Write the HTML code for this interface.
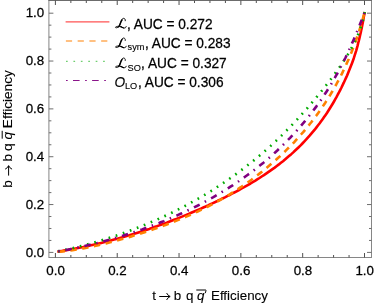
<!DOCTYPE html>
<html><head><meta charset="utf-8"><title>ROC</title>
<style>html,body{margin:0;padding:0;background:#fff;}svg{display:block;}svg{will-change:transform;}text{font-family:"Liberation Sans",sans-serif;fill:#000;}</style></head><body>
<svg width="374" height="305" viewBox="0 0 374 305">
<rect width="374" height="305" fill="#fff"/>
<g fill="none" stroke-width="2.6" stroke-linecap="butt" stroke-linejoin="round">
<path d="M57.3,251.7 L59.9,251.3 L62.5,250.9 L65.1,250.4 L67.7,250.0 L70.3,249.5 L72.9,249.0 L75.5,248.5 L78.1,248.0 L80.7,247.5 L83.3,247.0 L85.9,246.4 L88.4,245.9 L91.0,245.3 L93.6,244.7 L96.2,244.1 L98.7,243.5 L101.3,242.9 L103.9,242.3 L106.4,241.6 L109.0,241.0 L111.5,240.3 L114.1,239.6 L116.6,238.9 L119.1,238.2 L121.7,237.5 L124.2,236.8 L126.7,236.0 L129.3,235.3 L131.8,234.5 L134.3,233.8 L136.8,233.0 L139.3,232.2 L141.8,231.4 L144.3,230.5 L146.8,229.7 L149.3,228.9 L151.8,228.0 L154.3,227.1 L156.8,226.3 L159.3,225.4 L161.7,224.5 L164.2,223.6 L166.7,222.7 L169.1,221.7 L171.6,220.8 L174.1,219.8 L176.5,218.9 L179.0,217.9 L181.4,216.9 L183.9,215.9 L186.3,214.9 L188.7,213.9 L191.2,212.8 L193.6,211.8 L196.0,210.8 L198.5,209.7 L200.9,208.6 L203.3,207.5 L205.7,206.5 L208.1,205.4 L210.5,204.2 L212.9,203.1 L215.3,202.0 L217.7,200.8 L220.1,199.7 L222.5,198.5 L224.9,197.4 L227.2,196.2 L229.6,195.0 L231.9,193.7 L234.3,192.5 L236.6,191.3 L239.0,190.0 L241.3,188.7 L243.6,187.4 L245.9,186.1 L248.2,184.8 L250.5,183.5 L252.7,182.1 L255.0,180.8 L257.2,179.4 L259.5,178.0 L261.7,176.5 L263.9,175.1 L266.1,173.6 L268.2,172.1 L270.4,170.6 L272.5,169.1 L274.7,167.6 L276.8,166.0 L278.9,164.4 L280.9,162.8 L283.0,161.2 L285.0,159.5 L287.0,157.8 L289.0,156.1 L291.0,154.4 L293.0,152.6 L294.9,150.8 L296.8,149.0 L298.7,147.2 L300.6,145.4 L302.4,143.5 L304.2,141.6 L306.0,139.7 L307.8,137.7 L309.6,135.7 L311.3,133.7 L313.0,131.7 L314.7,129.7 L316.3,127.6 L317.9,125.5 L319.5,123.5 L321.1,121.3 L322.6,119.2 L324.1,117.0 L325.6,114.9 L327.1,112.7 L328.5,110.5 L329.9,108.2 L331.3,106.0 L332.7,103.7 L334.0,101.5 L335.3,99.2 L336.6,96.9 L337.8,94.5 L339.1,92.2 L340.3,89.8 L341.5,87.5 L342.6,85.1 L343.8,82.7 L344.9,80.3 L346.0,77.9 L347.1,75.5 L348.1,73.0 L349.1,70.6 L350.1,68.1 L351.1,65.6 L352.0,63.2 L352.9,60.7 L353.8,58.2 L354.6,55.7 L355.4,53.2 L356.2,50.6 L356.9,48.1 L357.6,45.6 L358.2,43.0 L358.9,40.5 L359.5,37.9 L360.1,35.3 L360.7,32.8 L361.2,30.2 L361.8,27.6 L362.3,25.0 L362.8,22.5 L363.3,19.9 L363.7,17.3 L364.2,14.7 L364.7,12.1" stroke="#ff0000"/>
<path d="M57.3,251.9 L59.9,251.7 L62.4,251.4 L65.0,251.1 L67.5,250.8 L70.1,250.4 L72.6,250.1 L75.2,249.7 L77.8,249.2 L80.3,248.8 L82.9,248.4 L85.5,247.9 L88.0,247.4 L90.6,246.9 L93.1,246.3 L95.7,245.8 L98.3,245.2 L100.8,244.6 L103.4,244.0 L105.9,243.4 L108.5,242.7 L111.0,242.1 L113.6,241.4 L116.1,240.7 L118.7,240.1 L121.2,239.3 L123.7,238.6 L126.3,237.9 L128.8,237.2 L131.3,236.4 L133.8,235.6 L136.4,234.9 L138.9,234.1 L141.4,233.3 L143.9,232.5 L146.4,231.7 L148.9,230.8 L151.4,230.0 L153.9,229.1 L156.4,228.3 L158.8,227.4 L161.3,226.5 L163.8,225.6 L166.2,224.7 L168.7,223.8 L171.1,222.8 L173.6,221.9 L176.0,220.9 L178.5,219.9 L180.9,218.9 L183.3,217.9 L185.7,216.9 L188.1,215.9 L190.5,214.8 L192.9,213.7 L195.2,212.7 L197.6,211.6 L200.0,210.4 L202.3,209.3 L204.7,208.2 L207.0,207.0 L209.3,205.8 L211.6,204.6 L213.9,203.4 L216.2,202.1 L218.5,200.9 L220.8,199.6 L223.1,198.3 L225.3,197.0 L227.6,195.6 L229.8,194.3 L232.0,192.9 L234.2,191.5 L236.4,190.1 L238.6,188.6 L240.8,187.2 L242.9,185.7 L245.1,184.2 L247.2,182.7 L249.4,181.2 L251.5,179.7 L253.6,178.1 L255.7,176.6 L257.7,175.0 L259.8,173.4 L261.9,171.8 L263.9,170.1 L265.9,168.5 L267.9,166.8 L269.9,165.1 L271.9,163.4 L273.9,161.7 L275.8,160.0 L277.7,158.2 L279.7,156.5 L281.6,154.7 L283.5,152.9 L285.3,151.1 L287.2,149.2 L289.0,147.4 L290.9,145.5 L292.7,143.7 L294.5,141.8 L296.2,139.9 L298.0,137.9 L299.7,136.0 L301.5,134.0 L303.2,132.1 L304.9,130.1 L306.5,128.1 L308.2,126.1 L309.8,124.0 L311.5,122.0 L313.0,119.9 L314.6,117.9 L316.2,115.8 L317.7,113.7 L319.3,111.5 L320.8,109.4 L322.3,107.3 L323.7,105.1 L325.2,102.9 L326.6,100.7 L328.0,98.5 L329.4,96.3 L330.7,94.1 L332.1,91.8 L333.4,89.6 L334.7,87.3 L336.0,85.0 L337.2,82.7 L338.5,80.4 L339.7,78.1 L340.9,75.7 L342.1,73.4 L343.2,71.0 L344.3,68.6 L345.5,66.3 L346.5,63.9 L347.6,61.5 L348.7,59.1 L349.7,56.6 L350.7,54.2 L351.7,51.8 L352.6,49.3 L353.6,46.9 L354.5,44.4 L355.4,42.0 L356.3,39.5 L357.1,37.0 L358.0,34.5 L358.8,32.1 L359.6,29.6 L360.4,27.1 L361.2,24.6 L361.9,22.1 L362.6,19.6 L363.3,17.1 L364.0,14.6 L364.7,12.1" stroke="#ff8000" stroke-dasharray="6.4 5.56" stroke-dashoffset="10.78"/>
<path d="M57.3,251.5 L59.8,251.0 L62.3,250.4 L64.8,249.9 L67.3,249.3 L69.8,248.8 L72.3,248.2 L74.8,247.6 L77.2,247.0 L79.7,246.4 L82.2,245.7 L84.7,245.1 L87.1,244.4 L89.6,243.7 L92.1,243.1 L94.5,242.4 L97.0,241.6 L99.5,240.9 L101.9,240.2 L104.4,239.4 L106.8,238.7 L109.2,237.9 L111.7,237.1 L114.1,236.3 L116.5,235.5 L119.0,234.6 L121.4,233.8 L123.8,232.9 L126.2,232.1 L128.6,231.2 L131.0,230.3 L133.4,229.4 L135.8,228.4 L138.2,227.5 L140.6,226.6 L142.9,225.6 L145.3,224.6 L147.7,223.6 L150.0,222.6 L152.4,221.6 L154.7,220.6 L157.1,219.6 L159.4,218.5 L161.7,217.4 L164.1,216.4 L166.4,215.3 L168.7,214.2 L171.0,213.1 L173.3,211.9 L175.6,210.8 L177.9,209.6 L180.2,208.5 L182.4,207.3 L184.7,206.1 L186.9,204.9 L189.2,203.7 L191.4,202.4 L193.7,201.2 L195.9,199.9 L198.1,198.7 L200.3,197.4 L202.5,196.1 L204.7,194.8 L206.9,193.4 L209.1,192.1 L211.3,190.8 L213.5,189.4 L215.6,188.0 L217.8,186.6 L219.9,185.2 L222.0,183.8 L224.2,182.4 L226.3,181.0 L228.4,179.5 L230.5,178.0 L232.6,176.6 L234.6,175.1 L236.7,173.6 L238.8,172.1 L240.8,170.5 L242.9,169.0 L244.9,167.4 L246.9,165.9 L248.9,164.3 L250.9,162.7 L252.9,161.1 L254.9,159.5 L256.9,157.9 L258.8,156.2 L260.8,154.6 L262.7,152.9 L264.6,151.2 L266.6,149.5 L268.5,147.8 L270.4,146.1 L272.2,144.4 L274.1,142.6 L276.0,140.9 L277.8,139.1 L279.7,137.4 L281.5,135.6 L283.3,133.8 L285.1,132.0 L286.9,130.2 L288.7,128.3 L290.5,126.5 L292.3,124.7 L294.0,122.8 L295.8,121.0 L297.5,119.1 L299.2,117.2 L300.9,115.3 L302.6,113.4 L304.3,111.5 L306.0,109.6 L307.7,107.7 L309.3,105.7 L311.0,103.8 L312.6,101.8 L314.3,99.9 L315.9,97.9 L317.5,95.9 L319.1,94.0 L320.8,92.0 L322.4,90.0 L324.0,88.0 L325.6,86.0 L327.2,83.9 L328.7,81.9 L330.3,79.9 L331.9,77.8 L333.4,75.8 L334.9,73.7 L336.4,71.6 L337.9,69.5 L339.4,67.4 L340.9,65.3 L342.3,63.2 L343.7,61.0 L345.1,58.8 L346.4,56.7 L347.8,54.5 L349.1,52.3 L350.4,50.1 L351.6,47.8 L352.8,45.6 L354.0,43.3 L355.1,41.0 L356.2,38.7 L357.3,36.4 L358.3,34.1 L359.2,31.7 L360.1,29.3 L360.9,26.9 L361.7,24.5 L362.5,22.1 L363.1,19.6 L363.7,17.1 L364.2,14.6 L364.7,12.1" stroke="#00aa00" stroke-dasharray="1.7 5.79" stroke-dashoffset="6.85"/>
<path d="M57.3,251.6 L59.8,251.1 L62.3,250.7 L64.8,250.2 L67.3,249.7 L69.8,249.2 L72.3,248.7 L74.9,248.1 L77.4,247.6 L79.9,247.0 L82.4,246.5 L84.9,245.9 L87.4,245.3 L89.9,244.7 L92.4,244.1 L94.9,243.5 L97.4,242.9 L99.9,242.2 L102.4,241.6 L104.9,240.9 L107.4,240.2 L109.9,239.5 L112.4,238.8 L114.9,238.1 L117.4,237.4 L119.9,236.6 L122.3,235.9 L124.8,235.1 L127.3,234.3 L129.8,233.5 L132.2,232.7 L134.7,231.9 L137.2,231.1 L139.6,230.2 L142.1,229.4 L144.5,228.5 L146.9,227.6 L149.4,226.7 L151.8,225.8 L154.2,224.9 L156.7,223.9 L159.1,223.0 L161.5,222.0 L163.9,221.1 L166.3,220.1 L168.7,219.1 L171.1,218.0 L173.5,217.0 L175.8,216.0 L178.2,214.9 L180.6,213.8 L182.9,212.8 L185.3,211.7 L187.6,210.5 L190.0,209.4 L192.3,208.3 L194.6,207.1 L196.9,206.0 L199.2,204.8 L201.5,203.6 L203.8,202.4 L206.1,201.1 L208.3,199.9 L210.6,198.6 L212.9,197.4 L215.1,196.1 L217.3,194.8 L219.6,193.5 L221.8,192.1 L224.0,190.8 L226.2,189.4 L228.3,188.1 L230.5,186.7 L232.7,185.3 L234.8,183.9 L237.0,182.4 L239.1,181.0 L241.2,179.5 L243.3,178.0 L245.4,176.5 L247.5,175.0 L249.6,173.5 L251.6,172.0 L253.7,170.4 L255.7,168.8 L257.8,167.2 L259.8,165.6 L261.8,164.0 L263.8,162.4 L265.7,160.7 L267.7,159.1 L269.6,157.4 L271.6,155.7 L273.5,154.0 L275.4,152.2 L277.3,150.5 L279.2,148.7 L281.0,146.9 L282.9,145.1 L284.7,143.3 L286.5,141.5 L288.3,139.6 L290.1,137.8 L291.9,135.9 L293.7,134.0 L295.4,132.1 L297.1,130.2 L298.8,128.2 L300.5,126.3 L302.2,124.3 L303.9,122.4 L305.5,120.4 L307.2,118.4 L308.8,116.3 L310.4,114.3 L312.0,112.3 L313.5,110.2 L315.1,108.1 L316.6,106.1 L318.1,104.0 L319.6,101.9 L321.1,99.7 L322.5,97.6 L324.0,95.5 L325.4,93.3 L326.8,91.2 L328.2,89.0 L329.5,86.8 L330.9,84.6 L332.2,82.4 L333.5,80.2 L334.8,77.9 L336.0,75.7 L337.3,73.5 L338.5,71.2 L339.7,68.9 L340.9,66.7 L342.1,64.4 L343.3,62.1 L344.4,59.8 L345.6,57.5 L346.7,55.1 L347.8,52.8 L348.9,50.5 L349.9,48.1 L351.0,45.8 L352.0,43.4 L353.1,41.0 L354.1,38.7 L355.1,36.3 L356.1,33.9 L357.1,31.5 L358.1,29.1 L359.1,26.7 L360.0,24.3 L361.0,21.8 L361.9,19.4 L362.9,17.0 L363.8,14.5 L364.7,12.1" stroke="#800080" stroke-dasharray="6.4 5.75 1.5 5.75" stroke-dashoffset="11.1"/>
</g>
<g stroke="#737373" stroke-width="1" fill="none">
<rect x="48.9" y="0.5" width="322.6" height="257.0" stroke="#868686"/>
<path d="M48.4,0.55 H372.0" stroke="#6c6c6c" stroke-width="1.1"/>
<path d="M48.9,252.40 h4.5 M371.5,252.40 h-4.5 M48.9,240.44 h2.5 M371.5,240.44 h-2.5 M48.9,228.48 h2.5 M371.5,228.48 h-2.5 M48.9,216.52 h2.5 M371.5,216.52 h-2.5 M48.9,204.56 h4.5 M371.5,204.56 h-4.5 M48.9,192.60 h2.5 M371.5,192.60 h-2.5 M48.9,180.64 h2.5 M371.5,180.64 h-2.5 M48.9,168.68 h2.5 M371.5,168.68 h-2.5 M48.9,156.72 h4.5 M371.5,156.72 h-4.5 M48.9,144.76 h2.5 M371.5,144.76 h-2.5 M48.9,132.80 h2.5 M371.5,132.80 h-2.5 M48.9,120.84 h2.5 M371.5,120.84 h-2.5 M48.9,108.88 h4.5 M371.5,108.88 h-4.5 M48.9,96.92 h2.5 M371.5,96.92 h-2.5 M48.9,84.96 h2.5 M371.5,84.96 h-2.5 M48.9,73.00 h2.5 M371.5,73.00 h-2.5 M48.9,61.04 h4.5 M371.5,61.04 h-4.5 M48.9,49.08 h2.5 M371.5,49.08 h-2.5 M48.9,37.12 h2.5 M371.5,37.12 h-2.5 M48.9,25.16 h2.5 M371.5,25.16 h-2.5 M48.9,13.20 h4.5 M371.5,13.20 h-4.5" stroke="#6e6e6e"/>
<path d="M55.40,257.5 v-4.5 M55.40,0.5 v4.5 M70.86,257.5 v-2.5 M70.86,0.5 v2.5 M86.31,257.5 v-2.5 M86.31,0.5 v2.5 M101.77,257.5 v-2.5 M101.77,0.5 v2.5 M117.22,257.5 v-4.5 M117.22,0.5 v4.5 M132.68,257.5 v-2.5 M132.68,0.5 v2.5 M148.13,257.5 v-2.5 M148.13,0.5 v2.5 M163.59,257.5 v-2.5 M163.59,0.5 v2.5 M179.04,257.5 v-4.5 M179.04,0.5 v4.5 M194.50,257.5 v-2.5 M194.50,0.5 v2.5 M209.95,257.5 v-2.5 M209.95,0.5 v2.5 M225.41,257.5 v-2.5 M225.41,0.5 v2.5 M240.86,257.5 v-4.5 M240.86,0.5 v4.5 M256.31,257.5 v-2.5 M256.31,0.5 v2.5 M271.77,257.5 v-2.5 M271.77,0.5 v2.5 M287.23,257.5 v-2.5 M287.23,0.5 v2.5 M302.68,257.5 v-4.5 M302.68,0.5 v4.5 M318.14,257.5 v-2.5 M318.14,0.5 v2.5 M333.59,257.5 v-2.5 M333.59,0.5 v2.5 M349.05,257.5 v-2.5 M349.05,0.5 v2.5 M364.50,257.5 v-4.5 M364.50,0.5 v4.5" stroke="#505050"/>
</g>
<g font-size="13.35" stroke="#000" stroke-width="0.25">
<text transform="translate(55.6,275.1) scale(1,1.025)" text-anchor="middle">0.0</text>
<text transform="translate(44.2,256.6) scale(1,1.025)" text-anchor="end">0.0</text>
<text transform="translate(117.4,275.1) scale(1,1.025)" text-anchor="middle">0.2</text>
<text transform="translate(44.2,208.8) scale(1,1.025)" text-anchor="end">0.2</text>
<text transform="translate(179.2,275.1) scale(1,1.025)" text-anchor="middle">0.4</text>
<text transform="translate(44.2,160.9) scale(1,1.025)" text-anchor="end">0.4</text>
<text transform="translate(241.1,275.1) scale(1,1.025)" text-anchor="middle">0.6</text>
<text transform="translate(44.2,113.1) scale(1,1.025)" text-anchor="end">0.6</text>
<text transform="translate(302.9,275.1) scale(1,1.025)" text-anchor="middle">0.8</text>
<text transform="translate(44.2,65.2) scale(1,1.025)" text-anchor="end">0.8</text>
<text transform="translate(364.7,275.1) scale(1,1.025)" text-anchor="middle">1.0</text>
<text transform="translate(44.2,17.4) scale(1,1.025)" text-anchor="end">1.0</text>
</g>
<g fill="none" stroke-width="1.35">
<path d="M65.6,21.85 H109.4" stroke="#ff0000" stroke-opacity="0.68"/>
<path d="M65.9,41.0 H109.4" stroke="#ff8000" stroke-opacity="0.66" stroke-dasharray="6.2 5.55"/>
<path d="M66.0,61.35 H109.4" stroke="#00aa00" stroke-opacity="0.56" stroke-width="1.25" stroke-dasharray="1.7 5.72"/>
<path d="M66.0,80.45 H109.4" stroke="#800080" stroke-opacity="0.92" stroke-width="1.12" stroke-dasharray="1.7 5.3 6.6 5.5"/>
</g>
<g font-size="13.7" stroke="#000" stroke-width="0.25">
<g transform="translate(115.03,18.63) scale(0.925)" fill="none" stroke="#000" stroke-linecap="round" stroke-linejoin="round"><path d="M11.1,2.3 C11.4,0.6 10.3,-0.5 9.0,-0.3 C7.3,0 6.7,2.2 5.9,4.7 C5.2,6.9 4.6,8.6 3.2,9.4 C2.0,10.0 0.6,10.1 0.5,9.5 C0.4,8.7 2.2,8.2 4.6,8.3 C6.6,8.4 7.6,9.5 9.0,10.0 C10.6,10.5 11.8,9.9 12.1,8.6" stroke-width="1.0"/><path d="M7.6,1.4 C6.8,2.3 6.4,3.3 5.9,4.7 C5.3,6.6 4.8,8.0 3.9,8.9" stroke-width="1.55"/><path d="M6.2,8.7 C7.4,9.2 8.2,9.8 9.4,10.1" stroke-width="1.3"/></g>
<text transform="translate(126.9,28.6) scale(1,1.02)">, AUC = 0.272</text>
<g transform="translate(115.03,38.33) scale(0.925)" fill="none" stroke="#000" stroke-linecap="round" stroke-linejoin="round"><path d="M11.1,2.3 C11.4,0.6 10.3,-0.5 9.0,-0.3 C7.3,0 6.7,2.2 5.9,4.7 C5.2,6.9 4.6,8.6 3.2,9.4 C2.0,10.0 0.6,10.1 0.5,9.5 C0.4,8.7 2.2,8.2 4.6,8.3 C6.6,8.4 7.6,9.5 9.0,10.0 C10.6,10.5 11.8,9.9 12.1,8.6" stroke-width="1.0"/><path d="M7.6,1.4 C6.8,2.3 6.4,3.3 5.9,4.7 C5.3,6.6 4.8,8.0 3.9,8.9" stroke-width="1.55"/><path d="M6.2,8.7 C7.4,9.2 8.2,9.8 9.4,10.1" stroke-width="1.3"/></g>
<text transform="translate(127.6,50.3) scale(1,1.02)" font-size="9.2" stroke-width="0.12">sym</text>
<text transform="translate(144.9,48.3) scale(1,1.02)">, AUC = 0.283</text>
<g transform="translate(115.03,58.33) scale(0.925)" fill="none" stroke="#000" stroke-linecap="round" stroke-linejoin="round"><path d="M11.1,2.3 C11.4,0.6 10.3,-0.5 9.0,-0.3 C7.3,0 6.7,2.2 5.9,4.7 C5.2,6.9 4.6,8.6 3.2,9.4 C2.0,10.0 0.6,10.1 0.5,9.5 C0.4,8.7 2.2,8.2 4.6,8.3 C6.6,8.4 7.6,9.5 9.0,10.0 C10.6,10.5 11.8,9.9 12.1,8.6" stroke-width="1.0"/><path d="M7.6,1.4 C6.8,2.3 6.4,3.3 5.9,4.7 C5.3,6.6 4.8,8.0 3.9,8.9" stroke-width="1.55"/><path d="M6.2,8.7 C7.4,9.2 8.2,9.8 9.4,10.1" stroke-width="1.3"/></g>
<text transform="translate(127.6,70.5) scale(1,1.02)" font-size="9.2" stroke-width="0.12">SO</text>
<text transform="translate(141.1,68.3) scale(1,1.02)">, AUC = 0.327</text>
<text transform="translate(114.6,87.0) scale(1,1.02)" font-style="italic" stroke-width="0.1">O</text>
<text transform="translate(125.0,89.1) scale(1,1.02)" font-size="9.2" stroke-width="0.12">LO</text>
<text transform="translate(137.9,87.0) scale(1,1.02)">, AUC = 0.306</text>
</g>
<g font-size="13.4" stroke="#000" stroke-width="0.1">
<text transform="translate(152.2,300.0) scale(1,1.02)">t</text>
<path d="M159.20,296.50 H169.80" stroke="#000" stroke-width="1.0" fill="none"/><path d="M166.80,293.40 Q168.00,295.80 170.20,296.50 Q168.00,297.20 166.80,299.60" stroke="#000" stroke-width="1.0" fill="none" stroke-linecap="round" stroke-linejoin="round"/>
<text transform="translate(173.8,300.0) scale(1,1.02)">b</text>
<text transform="translate(185.9,300.0) scale(1,1.02)">q</text>
<text transform="translate(197.0,300.0) scale(1,1.02)" font-style="italic">q</text>
<path d="M196.7,290 H205.6 Q206.2,290 206.0,290.8 L205.3,292.8" stroke="#000" stroke-width="1.0" fill="none" stroke-linecap="round"/>
<text transform="translate(210.95,300.0) scale(1,1.02)">Efficiency</text>
</g>
<g font-size="13.6" stroke="#000" stroke-width="0.1" transform="translate(12.0,188) rotate(-90)">
<text x="0.2" y="0">b</text>
<path d="M12.40,-3.40 H22.00" stroke="#000" stroke-width="1.0" fill="none"/><path d="M19.00,-6.50 Q20.20,-4.10 22.40,-3.40 Q20.20,-2.70 19.00,-0.30" stroke="#000" stroke-width="1.0" fill="none" stroke-linecap="round" stroke-linejoin="round"/>
<text x="26.4" y="0">b</text>
<text x="36.9" y="0">q</text>
<text x="48.5" y="0" font-style="italic">q</text>
<path d="M49.3,-9.8 H57.2" stroke="#000" stroke-width="1.0"/>
<text x="59.85" y="0">Efficiency</text>
</g>
</svg></body></html>
